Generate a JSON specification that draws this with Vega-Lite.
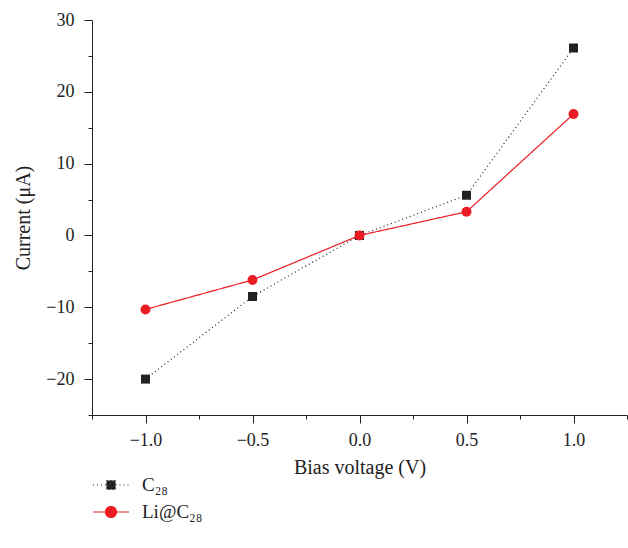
{
  "$schema": "https://vega.github.io/schema/vega-lite/v6.json",
  "width": 535,
  "height": 395,
  "autosize": {"type": "none"},
  "padding": {"left": 92, "top": 20, "right": 1, "bottom": 133},
  "background": "white",
  "config": {
    "view": {"stroke": null},
    "font": "Liberation Serif",
    "axis": {
      "domainColor": "#222",
      "tickColor": "#222",
      "labelColor": "#222",
      "titleColor": "#222",
      "labelFont": "Liberation Serif",
      "titleFont": "Liberation Serif",
      "labelFontSize": 18,
      "titleFontSize": 20,
      "titleFontWeight": "normal",
      "grid": false
    }
  },
  "data": {
    "values": [
      {"v": -1.0, "i": -20.0, "s": "C₂₈"},
      {"v": -0.5, "i": -8.5, "s": "C₂₈"},
      {"v": 0.0, "i": 0.0, "s": "C₂₈"},
      {"v": 0.5, "i": 5.6, "s": "C₂₈"},
      {"v": 1.0, "i": 26.1, "s": "C₂₈"},
      {"v": -1.0, "i": -10.3, "s": "Li@C₂₈"},
      {"v": -0.5, "i": -6.2, "s": "Li@C₂₈"},
      {"v": 0.0, "i": 0.0, "s": "Li@C₂₈"},
      {"v": 0.5, "i": 3.3, "s": "Li@C₂₈"},
      {"v": 1.0, "i": 16.9, "s": "Li@C₂₈"}
    ]
  },
  "encoding": {
    "x": {
      "field": "v", "type": "quantitative",
      "scale": {"domain": [-1.25, 1.25], "nice": false, "zero": false},
      "axis": {
        "title": "Bias voltage (V)",
        "values": [-1.25, -1, -0.75, -0.5, -0.25, 0, 0.25, 0.5, 0.75, 1, 1.25],
        "labelExpr": "datum.value % 0.5 === 0 ? format(datum.value, '.1f') : ''",
        "tickSize": {"condition": {"test": "datum.value % 0.5 === 0", "value": 8}, "value": 4},
        "labelPadding": 8,
        "titlePadding": 8
      }
    },
    "y": {
      "field": "i", "type": "quantitative",
      "scale": {"domain": [-25, 30], "nice": false, "zero": false},
      "axis": {
        "title": "Current (μA)",
        "values": [-25, -20, -15, -10, -5, 0, 5, 10, 15, 20, 25, 30],
        "labelExpr": "datum.value % 10 === 0 ? format(datum.value, 'd') : ''",
        "tickSize": {"condition": {"test": "datum.value % 10 === 0", "value": 8}, "value": 4},
        "labelPadding": 10,
        "titlePadding": 12
      }
    },
    "color": {
      "field": "s", "type": "nominal",
      "scale": {"domain": ["C₂₈", "Li@C₂₈"], "range": ["#222222", "#ec1c24"]},
      "legend": {
        "title": null,
        "orient": "none",
        "legendX": 8,
        "legendY": 454,
        "symbolSize": 400,
        "symbolStrokeWidth": 1.2,
        "symbolOpacity": 1,
        "symbolType": "M-1.8,0H-0.45M-0.45,-0.45H0.45V0.45H-0.45ZM0.45,0H1.8",
        "labelFont": "Liberation Serif",
        "labelFontSize": 19,
        "labelColor": "#222",
        "labelOffset": 20,
        "rowPadding": 6,
        "encode": {
          "symbols": {
            "update": {
              "shape": {"signal": "datum.value === 'C₂₈' ? 'M-1.8,0H-0.45M-0.45,-0.45H0.45V0.45H-0.45ZM0.45,0H1.8' : 'M-1.8,0H-0.55M-0.55,0A0.55,0.55 0 1,0 0.55,0A0.55,0.55 0 1,0 -0.55,0ZM0.55,0H1.8'"},
              "size": {"value": 400},
              "fill": {"signal": "datum.value === 'C₂₈' ? '#222222' : '#ec1c24'"},
              "stroke": {"signal": "datum.value === 'C₂₈' ? '#222222' : '#ec1c24'"},
              "strokeDash": {"signal": "datum.value === 'C₂₈' ? [1, 3] : [1, 0]"},
              "opacity": {"value": 1}
            }
          }
        }
      }
    }
  },
  "layer": [
    {
      "mark": {"type": "line", "strokeWidth": 1.2},
      "encoding": {
        "strokeDash": {
          "field": "s", "type": "nominal",
          "scale": {"domain": ["C₂₈", "Li@C₂₈"], "range": [[1, 3], [1, 0]]},
          "legend": null
        }
      }
    },
    {
      "transform": [{"filter": "datum.s === 'C₂₈'"}],
      "mark": {"type": "point", "filled": true, "opacity": 1, "shape": "square", "size": 81}
    },
    {
      "transform": [{"filter": "datum.s === 'Li@C₂₈'"}],
      "mark": {"type": "point", "filled": true, "opacity": 1, "shape": "circle", "size": 100}
    }
  ]
}
